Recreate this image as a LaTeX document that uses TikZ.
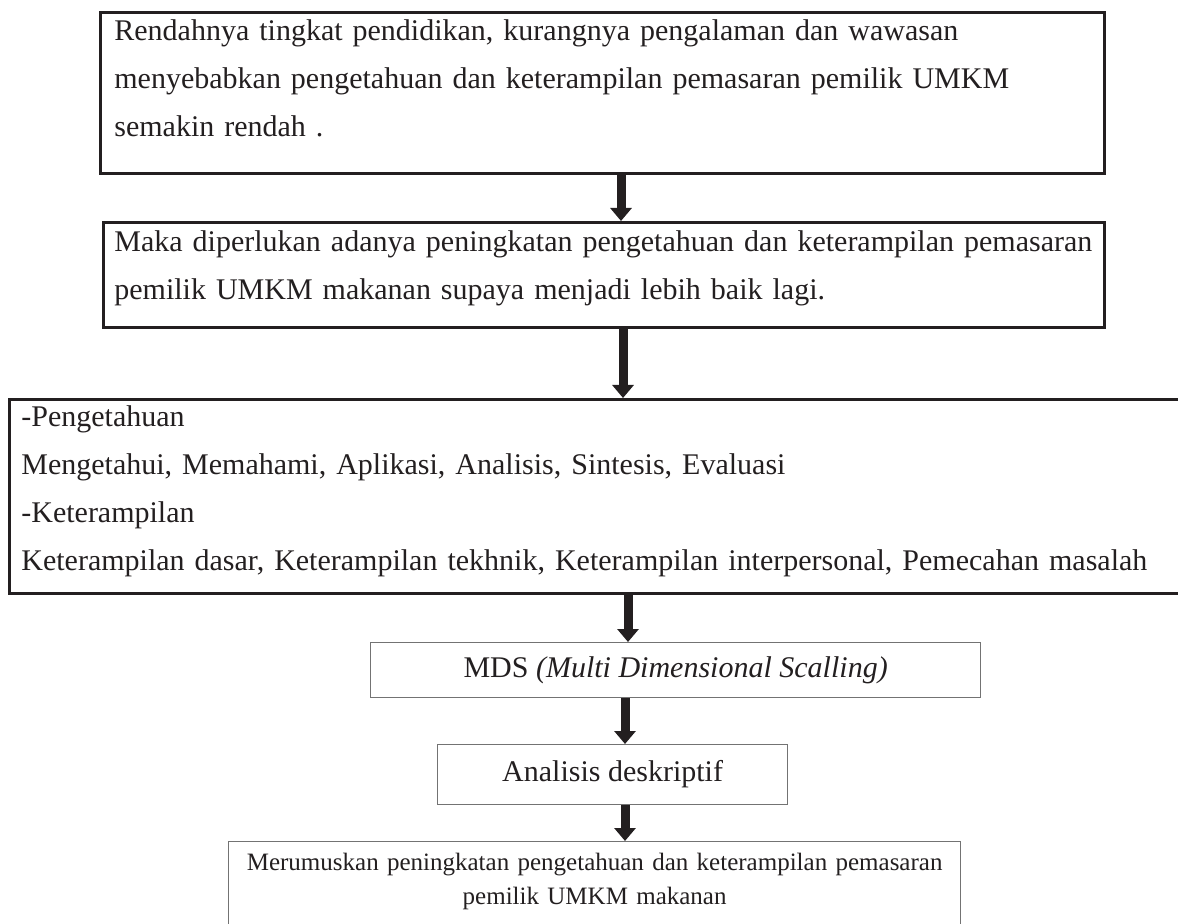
\documentclass[tikz,border=0pt]{standalone}
\usepackage{fontspec}
\setmainfont{Liberation Serif}
\usetikzlibrary{arrows.meta}

\newlength\pxu
\setlength\pxu{0.4pt}
\definecolor{ink}{HTML}{231F20}

\tikzset{
  bigbox/.style={draw=ink, line width=1.1pt, anchor=north west, inner ysep=0pt,
    align=left, text=ink, font=\fontsize{12pt}{19.2pt}\selectfont},
  thinbox/.style={draw=black!55, line width=0.5pt, anchor=north west, inner sep=0pt,
    align=center, text=ink, font=\fontsize{12pt}{14pt}\selectfont},
  flow/.style={draw=ink, line width=3.6pt, -{Triangle[width=8.4pt,length=5.2pt]}},
}

\begin{document}
\begin{tikzpicture}[x=0.4pt, y=-0.4pt]
      \useasboundingbox (0,0) rectangle (1178,924);

      % kotak
      \node[bigbox, inner xsep=14*\pxu, text width=976*\pxu] (cause) at (99,11)
        {\rule{0pt}{28\pxu}Rendahnya tingkat pendidikan, kurangnya pengalaman dan wawasan\\
         menyebabkan pengetahuan dan keterampilan pemasaran pemilik UMKM\\
         semakin rendah .\rule[-37\pxu]{0pt}{37\pxu}};
      \node[bigbox, inner xsep=11*\pxu, text width=979*\pxu] (need) at (102,221)
        {\rule{0pt}{29\pxu}Maka diperlukan adanya peningkatan pengetahuan dan keterampilan pemasaran\\
         pemilik UMKM makanan supaya menjadi lebih baik lagi.\rule[-28\pxu]{0pt}{28\pxu}};
      \node[bigbox, inner xsep=12*\pxu, text width=1166*\pxu] (theory) at (8,398)
        {\rule{0pt}{27\pxu}-Pengetahuan\\
         Mengetahui, Memahami, Aplikasi, Analisis, Sintesis, Evaluasi\\
         -Keterampilan\\
         Keterampilan dasar, Keterampilan tekhnik, Keterampilan interpersonal, Pemecahan masalah\rule[-23\pxu]{0pt}{23\pxu}};
      \node[thinbox, minimum width=610*\pxu, minimum height=55*\pxu] (mds) at (370,642)
        {MDS \textit{(Multi Dimensional Scalling)}};
      \node[thinbox, minimum width=350*\pxu, minimum height=60*\pxu] (analysis) at (437,744)
        {Analisis deskriptif};
      \node[thinbox, text width=712*\pxu, inner xsep=10*\pxu, font=\fontsize{10pt}{13.6pt}\selectfont] (result) at (228,841)
        {\rule{0pt}{29\pxu}Merumuskan peningkatan pengetahuan dan keterampilan pemasaran\\
         pemilik UMKM makanan\rule[-46\pxu]{0pt}{46\pxu}};

      % panah
      \coordinate (a1) at (621,0);
      \coordinate (a2) at (623,0);
      \coordinate (a3) at (628,0);
      \coordinate (a4) at (625,0);
      \draw[flow] (cause.south -| a1) -- (need.north -| a1);
      \draw[flow] (need.south -| a2) -- (theory.north -| a2);
      \draw[flow] (theory.south -| a3) -- (mds.north -| a3);
      \draw[flow] (mds.south -| a4) -- (analysis.north -| a4);
      \draw[flow] (analysis.south -| a4) -- (result.north -| a4);
\end{tikzpicture}
\end{document}
